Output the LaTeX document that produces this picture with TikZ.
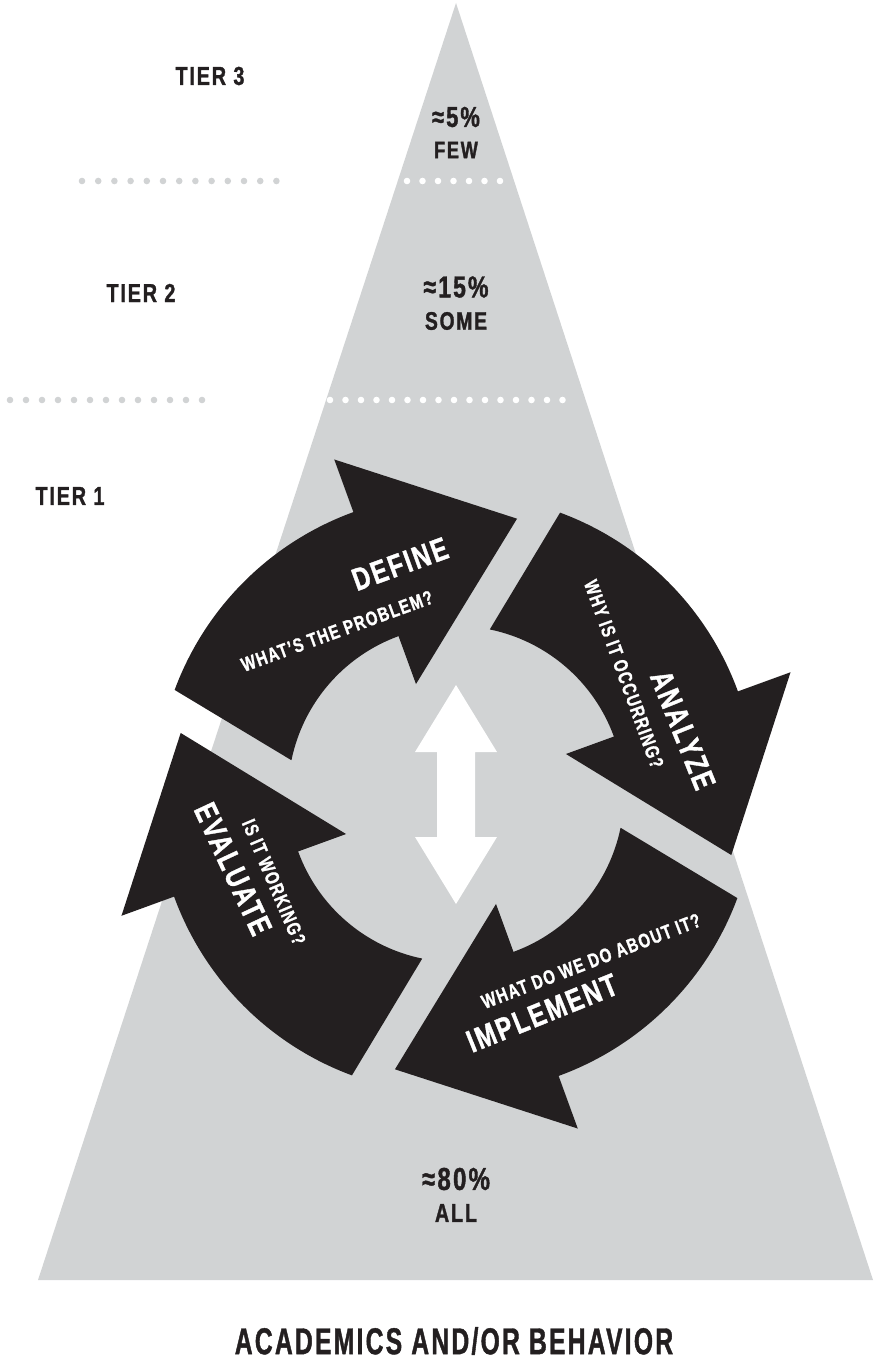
\documentclass[tikz,border=0pt]{standalone}
\usepackage{fontspec}
\setmainfont{Liberation Sans}[FakeStretch=0.76, LetterSpace=7, BoldFeatures={FakeBold=1.2}]
\usetikzlibrary{calc}
\definecolor{pyramid}{HTML}{D1D3D4}
\definecolor{ink}{HTML}{231F20}
\tikzset{
  lbl/.style={font=\bfseries, text=ink, inner sep=0pt},
  onarrow/.style={font=\bfseries, text=white, inner sep=0pt},
  cyc/.style={fill=ink},
}
\newcommand{\fs}[1]{\fontsize{#1}{#1}\selectfont}

\begin{document}
\begin{tikzpicture}[x=0.01cm, y=0.01cm]
    \useasboundingbox (0,0) rectangle (874,-1361);
    \coordinate (apex) at (456,-3);
    \coordinate (bl) at (38,-1280);
    \coordinate (br) at (873,-1280);
    \coordinate (C) at (456,-794); % middle of the cycle
    \fill[pyramid] (apex) -- (br) -- (bl) -- cycle;
    % dotted tier lines
    \foreach \i in {0,...,12} \fill[pyramid] (82+\i*16.2,-181) circle (3.3);
    \foreach \i in {0,...,6}  \fill[white] (407+\i*15.5,-181) circle (3.3);
    \foreach \i in {0,...,12} \fill[pyramid] (10+\i*16,-400) circle (3.3);
    \foreach \i in {0,...,15} \fill[white] (330+\i*15.5,-400) circle (3.3);
    \node[lbl] (tier3) at (210,-76) {\fs{7.4}TIER 3};
    \node[lbl] (tier2) at (141,-293) {\fs{7.4}TIER 2};
    \node[lbl] (tier1) at (70,-496) {\fs{7.4}TIER 1};
    \node[lbl] (few-pct) at (456,-117) {\fs{8.2}≈5\%};
    \node[lbl] (few) at (456,-150) {\fs{6.8}FEW};
    \node[lbl] (some-pct) at (456,-287) {\fs{8.6}≈15\%};
    \node[lbl] (some) at (456,-321) {\fs{7.2}SOME};
    \node[lbl] (all-pct) at (456,-1179) {\fs{9}≈80\%};
    \node[lbl] (all) at (456,-1213) {\fs{7.4}ALL};
    \node[lbl] (topic) at (454,-1341) {\fs{10.6}\scalebox{0.87}[1]{ACADEMICS AND/OR BEHAVIOR}};
    % four curved arrows, one shape turned round C
    \foreach \a in {0,-90,180,90}
        \fill[cyc, shift={(C)}, rotate=\a] (159.7:300)
            arc[start angle=159.7, end angle=110, radius=300]
            -- (110:356) -- (77.5:282) -- (110:117) -- (110:168)
            arc[start angle=110, end angle=168.4, radius=168] -- cycle;
    \fill[white] (456,-685) -- (497,-752) -- (475,-752) -- (475,-837) -- (497,-837)
        -- (456,-904) -- (415,-837) -- (437,-837) -- (437,-752) -- (415,-752) -- cycle;
    \node[onarrow, rotate=20] (define) at (400,-564) {\fs{9}DEFINE};
    \node[onarrow, rotate=20] (define-q) at (337,-631) {\fs{5.6}WHAT'S THE PROBLEM?};
    \node[onarrow, rotate=-68] (analyze) at (683,-730) {\fs{9}ANALYZE};
    \node[onarrow, rotate=-70] (analyze-q) at (624,-674) {\fs{5.6}WHY IS IT OCCURRING?};
    \node[onarrow, rotate=22] (implement) at (542,-1013) {\fs{9}IMPLEMENT};
    \node[onarrow, rotate=21] (implement-q) at (591,-961) {\fs{5.6}WHAT DO WE DO ABOUT IT?};
    \node[onarrow, rotate=-65] (evaluate) at (233,-869) {\fs{9}EVALUATE};
    \node[onarrow, rotate=-67] (evaluate-q) at (274,-882) {\fs{5.6}IS IT WORKING?};
\end{tikzpicture}
\end{document}
